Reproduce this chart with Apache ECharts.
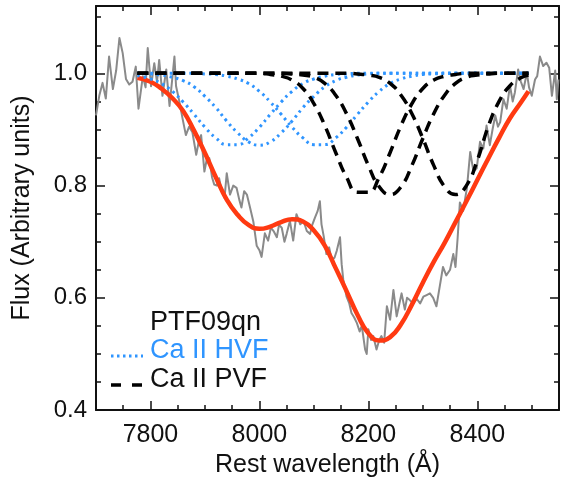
<!DOCTYPE html>
<html>
<head>
<meta charset="utf-8">
<script src="https://cdn.jsdelivr.net/npm/echarts@6/dist/echarts.min.js"></script>
<style>html,body{margin:0;padding:0;background:#fff}#c{width:561px;height:483px}</style>
</head>
<body>
<div id="c"></div>
<script>
// Observed spectrum (PTF09qn)
const specX = [7700,7706,7712,7718,7724,7731,7737,7743,7749,7755,7761,7767,7773,7778,7786,7791,7795,7801,7807,7812,7816,7822,7829,7835,7840,7844,7847,7853,7859,7865,7871,7877,7884,7889,7893,7899,7904,7908,7913,7917,7922,7926,7931,7936,7940,7946,7952,7958,7963,7967,7972,7977,7983,7989,7995,8000,8004,8010,8016,8021,8026,8032,8036,8041,8046,8050,8056,8062,8068,8075,8081,8087,8093,8097,8102,8107,8111,8114,8118,8123,8128,8133,8138,8142,8148,8151,8154,8160,8165,8169,8174,8179,8184,8188,8194,8197,8200,8205,8209,8215,8220,8224,8229,8234,8240,8246,8252,8257,8261,8267,8271,8276,8282,8289,8295,8301,8307,8313,8319,8325,8331,8337,8343,8350,8356,8360,8364,8368,8374,8381,8387,8393,8399,8405,8411,8417,8423,8428,8433,8438,8442,8448,8454,8460,8465,8469,8475,8480,8485,8491,8495,8500,8506,8510,8515,8521,8527,8532,8537,8543,8546,8549];
const specY = [0.925,0.960,0.983,0.955,1.030,0.972,1.005,1.063,1.036,0.990,0.980,0.985,1.012,0.937,0.995,0.975,1.045,0.977,1.018,0.985,1.024,0.960,1.007,0.942,0.990,1.030,0.977,0.950,0.919,0.890,0.905,0.895,0.855,0.880,0.890,0.825,0.850,0.849,0.815,0.802,0.800,0.813,0.790,0.778,0.822,0.784,0.800,0.796,0.775,0.761,0.790,0.784,0.760,0.735,0.693,0.685,0.673,0.715,0.702,0.725,0.719,0.708,0.730,0.725,0.700,0.714,0.737,0.702,0.749,0.731,0.737,0.719,0.714,0.730,0.743,0.755,0.772,0.731,0.710,0.678,0.690,0.667,0.672,0.684,0.708,0.660,0.632,0.602,0.590,0.573,0.565,0.555,0.540,0.550,0.508,0.500,0.544,0.525,0.532,0.508,0.525,0.532,0.520,0.585,0.561,0.614,0.567,0.590,0.608,0.579,0.600,0.596,0.590,0.598,0.590,0.602,0.605,0.608,0.600,0.585,0.620,0.655,0.640,0.650,0.678,0.655,0.708,0.770,0.755,0.796,0.860,0.825,0.831,0.878,0.866,0.907,0.872,0.900,0.925,0.905,0.913,0.954,0.937,0.978,0.950,0.966,1.007,0.985,0.972,1.001,0.975,0.960,0.989,0.995,1.030,1.013,1.019,1.010,0.960,1.005,0.954,0.989];

// Total fit
const fitX = [7776,7800,7820,7840,7860,7880,7900,7920,7940,7960,7980,8000,8020,8040,8060,8080,8100,8120,8140,8160,8180,8200,8220,8240,8260,8280,8300,8320,8340,8360,8380,8400,8420,8440,8460,8480,8494];
const fitY = [0.992,0.985,0.973,0.956,0.933,0.898,0.858,0.815,0.775,0.748,0.730,0.723,0.727,0.735,0.740,0.736,0.720,0.693,0.653,0.612,0.570,0.537,0.524,0.530,0.553,0.588,0.627,0.664,0.698,0.735,0.772,0.810,0.848,0.885,0.920,0.948,0.968];

// Component profiles
const modelX = [7776,7800,7820,7840,7860,7880,7900,7920,7940,7960,7980,8000,8020,8040,8060,8080,8100,8120,8140,8160,8180,8200,8220,8240,8260,8280,8300,8320,8340,8360,8380,8400,8420,8440,8460,8480,8494];
const hvf1 = [0.996,0.990,0.982,0.968,0.949,0.927,0.904,0.885,0.873,0.873,0.885,0.904,0.927,0.949,0.968,0.982,0.990,0.995,0.998,0.999,1,1,1,1,1,1,1,1,1,1,1,1,1,1,1,1,1];
const hvf2 = [1,0.999,0.997,0.993,0.987,0.976,0.959,0.939,0.915,0.894,0.878,0.872,0.878,0.894,0.915,0.939,0.959,0.976,0.987,0.993,0.997,0.999,1,1,1,1,1,1,1,1,1,1,1,1,1,1,1];
const hvf3 = [1,1,1,1,1,1,0.999,0.998,0.995,0.990,0.982,0.968,0.949,0.927,0.904,0.885,0.873,0.873,0.885,0.904,0.927,0.949,0.968,0.982,0.990,0.995,0.998,0.999,1,1,1,1,1,1,1,1,1];
const pvf1 = [1,1,1,1,1,1,1,1,1,1,1,1,0.998,0.995,0.988,0.973,0.946,0.907,0.859,0.815,0.788,0.788,0.815,0.859,0.907,0.946,0.973,0.988,0.995,0.998,1,1,1,1,1,1,1];
const pvf2 = [1,1,1,1,1,1,1,1,1,1,1,1,1,1,0.999,0.997,0.993,0.982,0.961,0.928,0.884,0.836,0.798,0.784,0.798,0.836,0.884,0.928,0.961,0.982,0.993,0.997,0.999,1,1,1,1];
const pvf3 = [1,1,1,1,1,1,1,1,1,1,1,1,1,1,1,1,1,1,1,1,0.999,0.997,0.993,0.982,0.961,0.928,0.884,0.836,0.798,0.784,0.800,0.845,0.905,0.950,0.978,0.992,0.997];

const xMajor = [7800, 8000, 8200, 8400];
const legendNames = ['PTF09qn', 'Ca II HVF', 'Ca II PVF'];

const FONT = 'Liberation Sans, Arial, Helvetica, sans-serif';
const BLUE = '#2f95ff';
const RED = '#ff3a12';
const GRAY = '#8a8a8a';
const INK = '#111';

const zip = (xs, ys) => xs.map((x, i) => [x, ys[i]]);

const chart = echarts.init(document.getElementById('c'), null, {renderer: 'canvas'});

const xBase = {type: 'value', min: 7700, max: 8550, splitLine: {show: false}, gridIndex: 0};
const yBase = {type: 'value', min: 0.4, max: 1.12, splitLine: {show: false}, gridIndex: 0};
const lineSty = {show: true, lineStyle: {color: INK, width: 2}};

function line(name, ys, xs, color, width, type, smooth, z) {
  return {
    type: 'line', name, data: zip(xs, ys), showSymbol: false, symbol: 'none',
    smooth: smooth, z: z, xAxisIndex: 0, yAxisIndex: 0,
    lineStyle: {color, width, type, cap: 'butt', join: 'round'}, animation: false, silent: true
  };
}

const series = [
  line('PTF09qn', specY, specX, GRAY, 2, 'solid', false, 2),
  line('fit', fitY, fitX, RED, 4.5, 'solid', 0.5, 3),
  line('Ca II HVF', hvf1, modelX, BLUE, 3, [2.5, 4], 0.5, 4),
  line('Ca II HVF 2', hvf2, modelX, BLUE, 3, [2.5, 4], 0.5, 4),
  line('Ca II HVF 3', hvf3, modelX, BLUE, 3, [2.5, 4], 0.5, 4),
  line('Ca II PVF', pvf1, modelX, '#000', 3.5, [11, 7], 0.5, 5),
  line('Ca II PVF 2', pvf2, modelX, '#000', 3.5, [11, 7], 0.5, 5),
  line('Ca II PVF 3', pvf3, modelX, '#000', 3.5, [11, 7], 0.5, 5)
];

const option = {
  animation: false,
  backgroundColor: '#fff',
  grid: {left: 96, right: 2, top: 6, bottom: 67, containLabel: false},
  xAxis: [
    Object.assign({}, xBase, {
      position: 'bottom', axisLine: lineSty,
      axisTick: {inside: true, length: 9, customValues: xMajor, lineStyle: {color: INK, width: 1.5}},
      axisLabel: {customValues: xMajor, margin: 13, fontSize: 25, fontFamily: FONT, color: INK,
        formatter: v => String(Math.round(v))},
      name: 'Rest wavelength (Å)', nameLocation: 'middle', nameGap: 36,
      nameTextStyle: {fontSize: 25, fontFamily: FONT, color: INK}
    }),
    Object.assign({}, xBase, {
      position: 'bottom', interval: 50, axisLine: {show: false},
      axisTick: {inside: true, length: 5, lineStyle: {color: INK, width: 1.5}}, axisLabel: {show: false}
    }),
    Object.assign({}, xBase, {
      position: 'top', axisLine: lineSty,
      axisTick: {inside: true, length: 9, customValues: xMajor, lineStyle: {color: INK, width: 1.5}},
      axisLabel: {show: false}
    }),
    Object.assign({}, xBase, {
      position: 'top', interval: 50, axisLine: {show: false},
      axisTick: {inside: true, length: 5, lineStyle: {color: INK, width: 1.5}}, axisLabel: {show: false}
    })
  ],
  yAxis: [
    Object.assign({}, yBase, {
      position: 'left', interval: 0.2, axisLine: lineSty,
      axisTick: {inside: true, length: 9, lineStyle: {color: INK, width: 1.5}},
      axisLabel: {margin: 9, fontSize: 24, fontFamily: FONT, color: INK, showMaxLabel: false,
        formatter: v => Number(v).toFixed(1)},
      name: 'Flux (Arbitrary units)', nameLocation: 'middle', nameGap: 61, nameRotate: 90,
      nameTextStyle: {fontSize: 25, fontFamily: FONT, color: INK}
    }),
    Object.assign({}, yBase, {
      position: 'left', interval: 0.05, axisLine: {show: false},
      axisTick: {inside: true, length: 5, lineStyle: {color: INK, width: 1.5}}, axisLabel: {show: false}
    }),
    Object.assign({}, yBase, {
      position: 'right', interval: 0.2, axisLine: lineSty,
      axisTick: {inside: true, length: 9, lineStyle: {color: INK, width: 1.5}}, axisLabel: {show: false}
    }),
    Object.assign({}, yBase, {
      position: 'right', interval: 0.05, axisLine: {show: false},
      axisTick: {inside: true, length: 5, lineStyle: {color: INK, width: 1.5}}, axisLabel: {show: false}
    })
  ],
  series: series,
  graphic: [
    {type: 'text', left: 150, top: 309, style: {text: legendNames[0], font: '27px ' + FONT, fill: INK}},
    {type: 'line', shape: {x1: 111, y1: 356, x2: 143, y2: 356}, style: {stroke: BLUE, lineWidth: 3, lineDash: [2.5, 3.5]}},
    {type: 'text', left: 150, top: 337, style: {text: legendNames[1], font: '27px ' + FONT, fill: BLUE}},
    {type: 'line', shape: {x1: 111, y1: 385, x2: 143, y2: 385}, style: {stroke: '#000', lineWidth: 3.5, lineDash: [10, 11]}},
    {type: 'text', left: 150, top: 366, style: {text: legendNames[2], font: '27px ' + FONT, fill: INK}}
  ]
};
chart.setOption(option);
</script>
</body>
</html>
